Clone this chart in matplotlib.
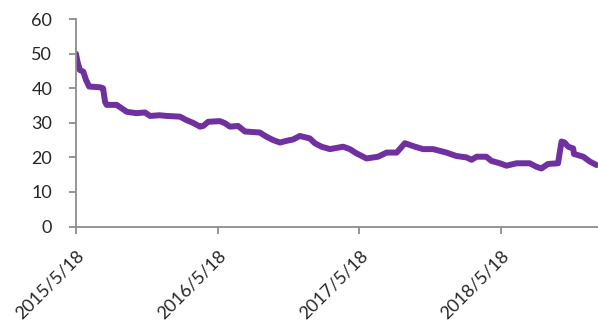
import matplotlib.pyplot as plt
import pandas as pd

# series readings (date, value)
dates = [
    "2015-05-18", "2015-05-22", "2015-05-28", "2015-06-06", "2015-06-13",
    "2015-06-21", "2015-07-19", "2015-07-27", "2015-08-01", "2015-08-05",
    "2015-08-31", "2015-09-13", "2015-09-26", "2015-10-21", "2015-11-12",
    "2015-11-25", "2015-12-20", "2016-01-07", "2016-02-10", "2016-02-27",
    "2016-03-15", "2016-04-02", "2016-04-10", "2016-04-23", "2016-05-23",
    "2016-06-05", "2016-06-18", "2016-07-09", "2016-07-27", "2016-09-03",
    "2016-09-20", "2016-10-08", "2016-10-25", "2016-11-11", "2016-11-28",
    "2016-12-15", "2017-01-10", "2017-01-23", "2017-02-09", "2017-03-03",
    "2017-04-06", "2017-04-23", "2017-05-10", "2017-06-05", "2017-07-05",
    "2017-07-27", "2017-08-22", "2017-09-12", "2017-10-08", "2017-10-29",
    "2017-11-24", "2017-12-28", "2018-01-23", "2018-02-18", "2018-03-03",
    "2018-03-16", "2018-04-10", "2018-04-23", "2018-05-15", "2018-06-01",
    "2018-06-27", "2018-07-31", "2018-08-17", "2018-08-30", "2018-09-16",
    "2018-10-12", "2018-10-16", "2018-10-21", "2018-10-29", "2018-11-07",
    "2018-11-20", "2018-11-22", "2018-12-16", "2019-01-02", "2019-01-19",
]
values = [
    50.0, 47.7, 45.3, 44.8, 42.4,
    40.5, 40.3, 40.0, 36.1, 35.2,
    35.2, 34.2, 33.2, 32.8, 33.0,
    32.0, 32.2, 32.0, 31.8, 30.8,
    30.0, 28.9, 29.1, 30.3, 30.5,
    29.9, 28.9, 29.1, 27.5, 27.2,
    26.0, 25.0, 24.3, 24.8, 25.2,
    26.2, 25.5, 24.1, 23.1, 22.4,
    23.1, 22.4, 21.2, 19.7, 20.2,
    21.4, 21.4, 24.1, 23.1, 22.4,
    22.4, 21.4, 20.4, 20.0, 19.3,
    20.2, 20.2, 19.0, 18.3, 17.6,
    18.3, 18.3, 17.3, 16.8, 18.1,
    18.3, 21.2, 24.6, 24.3, 23.1,
    22.6, 21.0, 20.2, 18.8, 17.8,
]
tick_dates = ["2015-05-18", "2016-05-18", "2017-05-18", "2018-05-18"]
tick_labels = ["2015/5/18", "2016/5/18", "2017/5/18", "2018/5/18"]

x = pd.to_datetime(dates)
axis_gray = "#8c8c8c"

fig = plt.figure(figsize=(5.98, 3.25), dpi=100)
ax = fig.add_axes([0.127, 0.303, 0.873, 0.638])

ax.plot(x, values, color="#7030a0", linewidth=4.3, solid_joinstyle="round",
        solid_capstyle="round")

ax.set_ylim(0, 60)
ax.set_yticks(range(0, 61, 10))
ax.set_xlim(pd.Timestamp("2015-05-18"), pd.Timestamp("2019-01-23"))
ax.set_xticks(pd.to_datetime(tick_dates))
ax.set_xticklabels(tick_labels, rotation=45, ha="right", va="top",
                   rotation_mode="anchor")

for side in ["top", "right"]:
    ax.spines[side].set_visible(False)
for side in ["left", "bottom"]:
    ax.spines[side].set_color(axis_gray)
    ax.spines[side].set_linewidth(1.3)

ax.tick_params(axis="both", direction="out", length=5, width=1.3,
               color=axis_gray, labelsize=13, labelcolor="#262626")
ax.tick_params(axis="y", pad=12)
ax.tick_params(axis="x", pad=10)
for lbl in ax.get_xticklabels() + ax.get_yticklabels():
    lbl.set_fontfamily("Lato")

fig.savefig("out.png", dpi=100)
